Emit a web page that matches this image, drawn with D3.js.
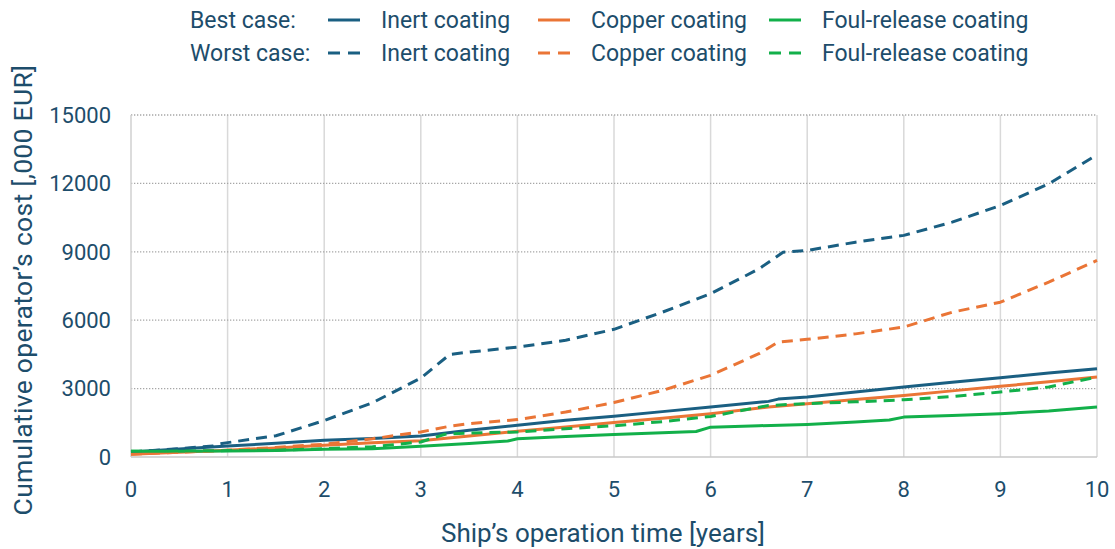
<!DOCTYPE html>
<html>
<head>
<meta charset="utf-8">
<script src="https://cdn.jsdelivr.net/npm/d3@7"></script>
<style>
  body { margin: 0; background: #fff; }
  svg { font-family: Roboto, "Noto Sans", sans-serif; }
</style>
</head>
<body>
<svg id="chart" width="1115" height="549"></svg>
<script>
// values: [year, cost in ,000 EUR]
const inertBest = [[0,220],[0.5,350],[1,480],[1.5,600],[2,730],[2.5,810],[3,920],[3.5,1170],[4,1390],[4.5,1610],[5,1790],[5.5,1990],[6,2190],[6.6,2440],[6.7,2540],[7,2630],[7.5,2850],[8,3070],[8.5,3280],[9,3480],[9.5,3680],[10,3870]];
const inertWorst = [[0,220],[0.5,370],[0.85,480],[0.9,560],[1,630],[1.5,930],[2,1600],[2.5,2380],[3,3460],[3.3,4500],[3.5,4600],[4,4820],[4.5,5120],[5,5600],[5.5,6350],[6,7160],[6.5,8250],[6.75,8980],[7,9060],[7.5,9420],[8,9720],[8.5,10300],[9,11030],[9.5,11980],[10,13250]];
const copperBest = [[0,120],[0.5,210],[1,300],[1.5,400],[2,510],[2.5,620],[3,710],[3.5,920],[4,1130],[4.5,1320],[5,1510],[5.5,1700],[6,1900],[6.6,2190],[7,2340],[7.5,2520],[8,2700],[8.5,2900],[9,3100],[9.5,3300],[10,3510]];
const copperWorst = [[0,120],[0.5,210],[1,300],[1.5,420],[2,560],[2.5,800],[3,1100],[3.3,1350],[3.5,1460],[4,1640],[4.5,1970],[5,2390],[5.5,2920],[6,3580],[6.5,4530],[6.7,5040],[7,5160],[7.5,5400],[8,5700],[8.5,6350],[9,6790],[9.5,7670],[10,8620]];
const foulBest = [[0,250],[0.5,255],[1,263],[1.5,280],[2,335],[2.5,360],[3,470],[3.5,590],[3.9,700],[4,800],[4.5,900],[5,990],[5.5,1060],[5.85,1120],[6,1310],[6.5,1370],[7,1430],[7.5,1530],[7.85,1620],[8,1750],[8.5,1820],[9,1900],[9.5,2020],[10,2190]];
const foulWorst = [[0,250],[0.5,260],[1,280],[1.5,300],[2,360],[2.5,450],[3,660],[3.25,1000],[3.5,1050],[4,1100],[4.5,1240],[5,1370],[5.5,1550],[6,1780],[6.6,2260],[7,2340],[7.5,2420],[8,2510],[8.5,2650],[9,2850],[9.5,3070],[10,3510]];

const coatings = ['Inert coating', 'Copper coating', 'Foul-release coating'];
const cases = ['Best case:', 'Worst case:'];
const xTicks = [0, 1, 2, 3, 4, 5, 6, 7, 8, 9, 10];
const yTicks = [0, 3000, 6000, 9000, 12000, 15000];

const colors = ['#1a5f82', '#ea7536', '#12b04a'];
const textColor = '#1d4d6b';
const dash = '11,7';

const series = [
  { data: inertBest, c: 0, worst: false },
  { data: copperBest, c: 1, worst: false },
  { data: foulBest, c: 2, worst: false },
  { data: inertWorst, c: 0, worst: true },
  { data: copperWorst, c: 1, worst: true },
  { data: foulWorst, c: 2, worst: true },
];

const svg = d3.select('#chart');
const margin = { left: 131, right: 18, top: 115, bottom: 92 };
const W = 1115, H = 549;

const x = d3.scaleLinear().domain([0, 10]).range([margin.left, W - margin.right]);
const y = d3.scaleLinear().domain([0, 15000]).range([H - margin.bottom, margin.top]);

// grid
svg.append('g')
  .selectAll('line')
  .data(xTicks.filter(d => d > 0))
  .join('line')
  .attr('x1', d => x(d)).attr('x2', d => x(d))
  .attr('y1', y(15000)).attr('y2', y(0))
  .style('stroke', '#d9d9d9').style('stroke-width', 1.5);

svg.append('g')
  .selectAll('line')
  .data(yTicks.filter(d => d > 0))
  .join('line')
  .attr('x1', x(0)).attr('x2', x(10))
  .attr('y1', d => y(d)).attr('y2', d => y(d))
  .style('stroke', '#a6a6a6').style('stroke-width', 1.3)
  .style('stroke-dasharray', '1.3,1.7');

// axes lines
svg.append('line')
  .attr('x1', x(0)).attr('x2', x(0)).attr('y1', y(15000)).attr('y2', y(0))
  .style('stroke', '#d0d0d0').style('stroke-width', 1.5);
svg.append('line')
  .attr('x1', x(0)).attr('x2', x(10)).attr('y1', y(0)).attr('y2', y(0))
  .style('stroke', '#c8c8c8').style('stroke-width', 1.5);

// tick labels
svg.append('g')
  .selectAll('text')
  .data(xTicks)
  .join('text')
  .attr('x', d => x(d))
  .attr('y', y(0) + 40)
  .attr('text-anchor', 'middle')
  .style('font-size', '22px')
  .style('fill', textColor)
  .text(d => d);

svg.append('g')
  .selectAll('text')
  .data(yTicks)
  .join('text')
  .attr('x', x(0) - 20)
  .attr('y', d => y(d))
  .attr('dy', '0.35em')
  .attr('text-anchor', 'end')
  .style('font-size', '22px')
  .style('fill', textColor)
  .text(d => d);

// axis titles
svg.append('text')
  .attr('x', 603)
  .attr('y', 542)
  .attr('text-anchor', 'middle')
  .style('font-size', '26px')
  .style('fill', textColor)
  .text('Ship’s operation time [years]');

svg.append('text')
  .attr('transform', `translate(32, 290) rotate(-90)`)
  .attr('text-anchor', 'middle')
  .style('font-size', '26.5px')
  .style('letter-spacing', '0.3px')
  .style('fill', textColor)
  .text('Cumulative operator’s cost [,000 EUR]');

// lines
const line = d3.line()
  .x(d => x(d[0]))
  .y(d => y(d[1]));

svg.append('g')
  .selectAll('path')
  .data(series)
  .join('path')
  .attr('d', d => line(d.data))
  .style('fill', 'none')
  .style('stroke', d => colors[d.c])
  .style('stroke-width', 3)
  .style('stroke-linejoin', 'round')
  .style('stroke-dasharray', d => d.worst ? dash : null);

// legend
const legendX = [328, 538, 769];
const legendY = [20, 53];
const lg = svg.append('g');
cases.forEach((c, r) => {
  lg.append('text')
    .attr('x', 190).attr('y', legendY[r]).attr('dy', '0.35em')
    .style('font-size', '23px').style('fill', textColor)
    .text(c);
  coatings.forEach((name, i) => {
    lg.append('line')
      .attr('x1', legendX[i]).attr('x2', legendX[i] + 32)
      .attr('y1', legendY[r]).attr('y2', legendY[r])
      .style('stroke', colors[i]).style('stroke-width', 3)
      .style('stroke-dasharray', r === 1 ? '12,8' : null);
    lg.append('text')
      .attr('x', legendX[i] + 53).attr('y', legendY[r]).attr('dy', '0.35em')
      .style('font-size', '23px').style('fill', textColor)
      .text(name);
  });
});
</script>
</body>
</html>
